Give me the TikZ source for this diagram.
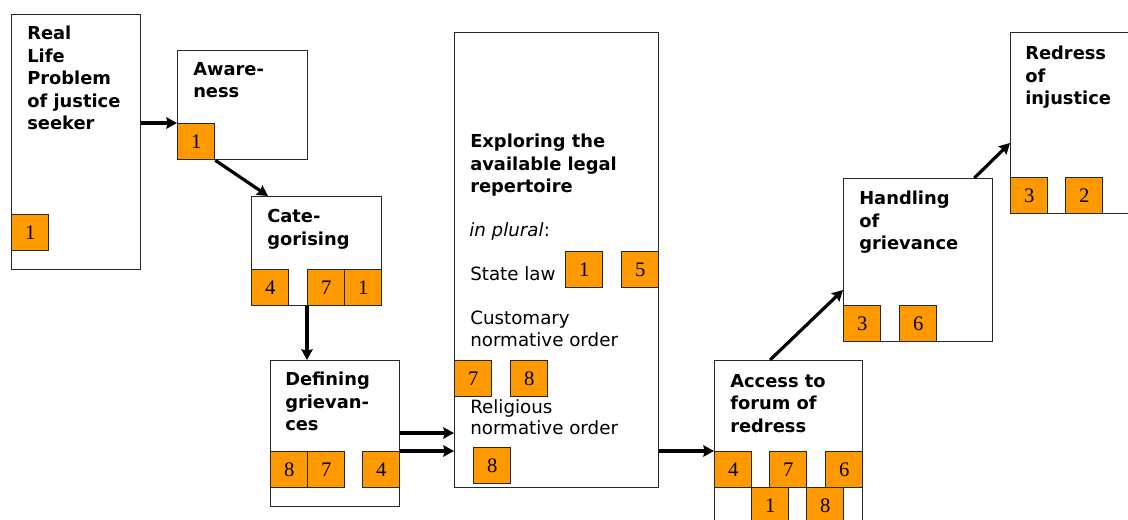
\documentclass[tikz,border=0pt]{standalone}
\usepackage{fontspec}
\newfontfamily\vfont{DejaVu Sans}
\newfontfamily\numfont{Liberation Serif}
\usetikzlibrary{arrows.meta}

\definecolor{tagorange}{RGB}{255,153,0}
\definecolor{rim}{RGB}{40,40,40}
\newcommand\px{0.75pt}

\tikzset{
  stage/.style={draw=rim,fill=white,line width=1pt,anchor=north west,inner sep=0pt},
  tag/.style={draw=rim,fill=tagorange,line width=1pt,anchor=north west,inner sep=0pt,
    minimum width=37*\px,minimum height=36*\px,font=\numfont\fontsize{15.5}{15.5}\selectfont},
  title/.style={anchor=north west,inner sep=0pt,align=left,
    font=\vfont\bfseries\fontsize{13.4}{16.9}\selectfont},
  plain/.style={anchor=north west,inner sep=0pt,align=left,
    font=\vfont\fontsize{13.7}{16.1}\selectfont},
  flow/.style={->,line width=2.4pt}
}

\begin{document}
\begin{tikzpicture}[x=0.75pt,y=-0.75pt,>={Stealth[length=8pt,width=8.5pt,inset=1pt]}]

\clip (0,0) rectangle (1128,519);

% stages
\node [stage,minimum width=129*\px,minimum height=255*\px] at (11,14)   (life)    {};
\node [stage,minimum width=130*\px,minimum height=109*\px] at (177,50)  (aware)   {};
\node [stage,minimum width=130*\px,minimum height=109*\px] at (251,196) (cat)     {};
\node [stage,minimum width=129*\px,minimum height=146*\px] at (270,360) (def)     {};
\node [stage,minimum width=204*\px,minimum height=455*\px] at (454,32)  (big)     {};
\node [stage,minimum width=148*\px,minimum height=180*\px] at (714,360) (access)  {};
\node [stage,minimum width=149*\px,minimum height=163*\px] at (843,178) (handle)  {};
\node [stage,minimum width=150*\px,minimum height=181*\px] at (1010,32) (redress) {};

% texts
\node [title] at (27,26)   (tlife)   {Real\\Life\\Problem\\of justice\\seeker};
\node [title] at (193,62)  (taware)  {Aware-\\ness};
\node [title] at (267,209) (tcat)    {Cate-\\gorising};
\node [title] at (285,372) (tdef)    {Defining\\grievan-\\ces};
\node [title] at (470,134) (tbig)    {Exploring the\\available legal\\repertoire};
\node [plain] at (469,222) (tplural) {\textit{in plural}:};
\node [plain] at (470,266) (tstate)  {State law};
\node [plain] at (470,311) (tcust)   {Customary\\normative order};
\node [plain] at (470,399) (trelig)  {Religious\\normative order};
\node [title] at (730,374) (taccess) {Access to\\forum of\\redress};
\node [title] at (859,191) (thandle) {Handling\\of\\grievance};
\node [title] at (1025,46) (tredress){Redress\\of\\injustice};

% numbered tags
\node [tag] at (11,214)  (l1) {1};
\node [tag] at (177,123) (a1) {1};
\node [tag] at (251,269) (c4) {4};
\node [tag] at (307,269) (c7) {7};
\node [tag] at (344,269) (c1) {1};
\node [tag] at (270,451) (d8) {8};
\node [tag] at (307,451) (d7) {7};
\node [tag] at (362,451) (d4) {4};
\node [tag] at (565,251) (b1) {1};
\node [tag] at (621,251) (b5) {5};
\node [tag] at (454,360) (b7) {7};
\node [tag] at (510,360) (b8) {8};
\node [tag] at (473,447) (b8r) {8};
\node [tag] at (714,451) (x4) {4};
\node [tag] at (769,451) (x7) {7};
\node [tag] at (825,451) (x6) {6};
\node [tag] at (751,487) (x1) {1};
\node [tag] at (806,487) (x8) {8};
\node [tag] at (843,305) (h3) {3};
\node [tag] at (899,305) (h6) {6};
\node [tag] at (1010,177) (r3) {3};
\node [tag] at (1065,177) (r2) {2};

% connectors
\path (cat.north west) ++(17,0) coordinate (catin);
\path (d4.north east) ++(0,-18) coordinate (dhi);
\path (access.north west) ++(56,0) coordinate (xout);
\path (handle.north west) ++(0,112) coordinate (hin);
\path (handle.north east) ++(-19,0) coordinate (hout);
\path (redress.north west) ++(0,111) coordinate (rin);

\draw [flow] (life.east |- a1.north) -- (aware.west |- a1.north);
\draw [flow] (a1.south east) -- (catin);
\draw [flow] (c7.south west) -- (c7.south west |- def.north);
\draw [flow] (dhi) -- (dhi -| big.west);
\draw [flow] (d4.north east) -- (big.west |- d4.north);
\draw [flow] (big.east |- x4.north) -- (x4.north west);
\draw [flow] (xout) -- (hin);
\draw [flow] (hout) -- (rin);

\end{tikzpicture}
\end{document}
